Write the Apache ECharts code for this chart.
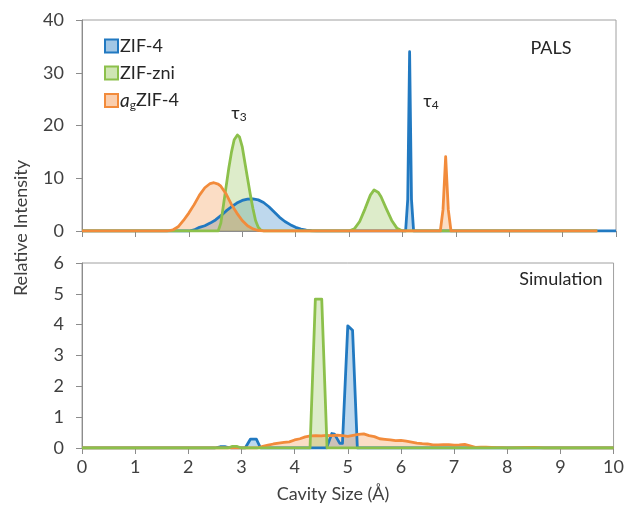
<!DOCTYPE html>
<html>
<head>
<meta charset="utf-8">
<script src="https://cdn.jsdelivr.net/npm/echarts@6/dist/echarts.min.js"></script>
<style>
html,body{margin:0;padding:0;background:#fff;}
#chart{width:627px;height:510px;}
</style>
</head>
<body>
<div id="chart"></div>
<script>
// ---- data (x = cavity size in Å, y = relative intensity) ----
const xTicks = [0,1,2,3,4,5,6,7,8,9,10];
const palsYTicks = [0,10,20,30,40];
const simYTicks = [0,1,2,3,4,5,6];
const seriesNames = ['ZIF-4','ZIF-zni','agZIF-4'];

const palsZif4 = [[0,0],[2.0,0],[2.1,0.2],[2.2,0.7],[2.3,1.0],[2.4,1.5],[2.5,2.1],[2.6,2.9],[2.7,3.8],[2.8,4.6],[2.9,5.3],[3.0,5.8],[3.1,6.05],[3.2,6.1],[3.3,5.9],[3.4,5.4],[3.5,4.6],[3.6,3.6],[3.7,2.6],[3.8,1.8],[3.9,1.2],[4.0,0.7],[4.1,0.35],[4.2,0.15],[4.3,0.05],[4.4,0],[6.06,0],[6.1,6],[6.135,34],[6.17,6],[6.21,0],[10,0]];
const palsZni = [[0,0],[2.55,0],[2.6,1.5],[2.65,5.0],[2.7,8.5],[2.75,12],[2.8,15],[2.85,17.3],[2.91,18.2],[2.95,17.8],[3.0,16],[3.05,13],[3.1,10],[3.15,7],[3.2,4.3],[3.25,2.0],[3.3,0.7],[3.35,0.15],[3.4,0],[5.0,0],[5.1,0.4],[5.2,1.8],[5.3,4.2],[5.4,6.8],[5.47,7.8],[5.55,7.3],[5.6,6.5],[5.7,4.2],[5.8,2.0],[5.9,0.5],[6.0,0],[9.65,0]];
const palsAg = [[0,0],[1.6,0],[1.7,0.2],[1.8,0.8],[1.9,2.0],[2.0,3.4],[2.1,5.0],[2.2,6.8],[2.3,8.2],[2.4,9.0],[2.47,9.15],[2.55,8.9],[2.6,8.5],[2.7,7.0],[2.8,5.0],[2.9,3.4],[3.0,2.0],[3.1,1.0],[3.2,0.4],[3.3,0.1],[3.4,0],[6.71,0],[6.76,4],[6.81,14.1],[6.86,4],[6.91,0],[9.65,0]];

const simZif4 = [[0,0],[2.5,0],[2.6,0.04],[2.7,0.04],[2.8,0],[3.07,0],[3.17,0.29],[3.28,0.29],[3.36,0],[4.6,0],[4.7,0.47],[4.75,0.45],[4.85,0.15],[4.9,0.15],[5.0,3.96],[5.09,3.82],[5.18,0],[10,0]];
const simZni = [[0,0],[2.75,0],[2.82,0.05],[2.92,0.05],[3.0,0],[4.29,0],[4.39,4.83],[4.51,4.83],[4.61,0],[10,0]];
const simAg = [[0,0],[3.3,0],[3.4,0.05],[3.5,0.09],[3.6,0.13],[3.7,0.16],[3.8,0.18],[3.9,0.2],[4.0,0.26],[4.1,0.3],[4.2,0.36],[4.3,0.39],[4.4,0.4],[4.5,0.39],[4.6,0.41],[4.7,0.4],[4.8,0.42],[4.9,0.4],[5.0,0.38],[5.1,0.41],[5.2,0.44],[5.3,0.46],[5.4,0.4],[5.5,0.37],[5.6,0.3],[5.7,0.28],[5.8,0.26],[5.9,0.24],[6.0,0.25],[6.1,0.22],[6.2,0.19],[6.3,0.16],[6.4,0.14],[6.5,0.13],[6.6,0.1],[6.7,0.1],[6.8,0.11],[6.9,0.11],[7.0,0.09],[7.1,0.1],[7.2,0.12],[7.3,0.07],[7.4,0.02],[7.5,0.03],[7.6,0.03],[7.7,0.02],[7.8,0.01],[7.9,0.01],[8.0,0],[8.5,0.02],[8.6,0.01],[8.7,0],[10,0]];

// ---- styles ----
const FONT = 'Lato, "Open Sans", sans-serif';
const FS = 18;
const C = {blue:'#2179c1', green:'#8cc04b', orange:'#f28b3b'};
const FILL = {blue:'rgba(33,121,193,0.42)', green:'rgba(140,192,75,0.42)', orange:'rgba(242,139,59,0.42)'};
const AX = '#8c8c8c';

function lineSeries(name, data, key, gi) {
  return {
    name: name, type: 'line', data: data,
    xAxisIndex: gi, yAxisIndex: gi,
    showSymbol: false, symbol: 'none', smooth: false,
    lineStyle: {color: C[key], width: 2.8, join: 'round'},
    itemStyle: {color: C[key]},
    areaStyle: {color: FILL[key], origin: 'start'},
    emphasis: {disabled: true},
    animation: false
  };
}

function xAxis(gi, showLabels) {
  return {
    type: 'value', gridIndex: gi, min: xTicks[0], max: xTicks[xTicks.length-1], interval: 1,
    axisLine: {show: true, lineStyle: {color: AX, width: 1}},
    axisTick: {show: true, inside: false, length: 6, lineStyle: {color: AX}},
    splitLine: {show: false},
    axisLabel: {show: showLabels, color: '#404040', fontSize: FS, fontFamily: FONT, margin: 10}
  };
}
function yAxis(gi, ticks) {
  return {
    type: 'value', gridIndex: gi, min: ticks[0], max: ticks[ticks.length-1], interval: ticks[1]-ticks[0],
    axisLine: {show: true, lineStyle: {color: AX, width: 1}},
    axisTick: {show: true, inside: false, length: 6, lineStyle: {color: AX}},
    splitLine: {show: false},
    axisLabel: {color: '#404040', fontSize: FS, fontFamily: FONT, margin: 18}
  };
}

const subRich = {fontSize: 12, fontFamily: FONT, verticalAlign: 'bottom', lineHeight: 13, padding: [7,0,0,0]};

const chart = echarts.init(document.getElementById('chart'), null, {renderer: 'canvas'});
chart.setOption({
  animation: false,
  backgroundColor: '#fff',
  grid: [
    {left: 82, right: 11, top: 20, height: 211, show: true, borderColor: '#a0a0a0', borderWidth: 1, backgroundColor: 'transparent'},
    {left: 82, right: 11, top: 263, height: 185, show: true, borderColor: '#a0a0a0', borderWidth: 1, backgroundColor: 'transparent'}
  ],
  xAxis: [xAxis(0, false), xAxis(1, true)],
  yAxis: [yAxis(0, palsYTicks), yAxis(1, simYTicks)],
  legend: {
    orient: 'vertical', left: 99, top: 32,
    itemWidth: 13, itemHeight: 13, itemGap: 9,
    icon: 'rect',
    data: [
      {name: seriesNames[0], itemStyle: {color: FILL.blue, borderColor: C.blue, borderWidth: 2}},
      {name: seriesNames[1], itemStyle: {color: FILL.green, borderColor: C.green, borderWidth: 2}},
      {name: seriesNames[2], itemStyle: {color: FILL.orange, borderColor: C.orange, borderWidth: 2}}
    ],
    formatter: function (n) {
      if (n === 'agZIF-4') return '{i|a}{s|g}{n|ZIF-4}';
      return '{n|' + n + '}';
    },
    textStyle: {
      color: '#262626', fontFamily: FONT, fontSize: FS, padding: [0,0,0,-3],
      rich: {
        n: {fontSize: FS, fontFamily: FONT, color: '#262626', lineHeight: 21},
        i: {fontSize: FS + 1, fontStyle: 'italic', fontFamily: FONT, color: '#262626', lineHeight: 21},
        s: Object.assign({color: '#262626'}, subRich)
      }
    },
    selectedMode: false
  },
  graphic: [
    {type: 'text', x: 551, y: 48, style: {text: 'PALS', fill: '#262626', font: FS + 'px ' + FONT, align: 'center', verticalAlign: 'middle'}},
    {type: 'text', x: 561, y: 279, style: {text: 'Simulation', fill: '#262626', font: FS + 'px ' + FONT, align: 'center', verticalAlign: 'middle'}},
    {type: 'text', x: 239, y: 113, style: {text: '{t|τ}{s|3}', align: 'center', verticalAlign: 'middle',
      rich: {t: {fontSize: FS, fontFamily: FONT, fill: '#262626', lineHeight: 20}, s: Object.assign({fill: '#262626'}, subRich)}}},
    {type: 'text', x: 431, y: 101, style: {text: '{t|τ}{s|4}', align: 'center', verticalAlign: 'middle',
      rich: {t: {fontSize: FS, fontFamily: FONT, fill: '#262626', lineHeight: 20}, s: Object.assign({fill: '#262626'}, subRich)}}},
    {type: 'text', x: 333, y: 494, style: {text: 'Cavity Size (Å)', fill: '#404040', font: FS + 'px ' + FONT, align: 'center', verticalAlign: 'middle'}},
    {type: 'text', x: 21, y: 228, rotation: Math.PI / 2, style: {text: 'Relative Intensity', fill: '#404040', font: FS + 'px ' + FONT, align: 'center', verticalAlign: 'middle'}}
  ],
  series: [
    lineSeries(seriesNames[0], palsZif4, 'blue', 0),
    lineSeries(seriesNames[1], palsZni, 'green', 0),
    lineSeries(seriesNames[2], palsAg, 'orange', 0),
    lineSeries(seriesNames[0], simZif4, 'blue', 1),
    lineSeries(seriesNames[2], simAg, 'orange', 1),
    lineSeries(seriesNames[1], simZni, 'green', 1)
  ]
});
</script>
</body>
</html>
